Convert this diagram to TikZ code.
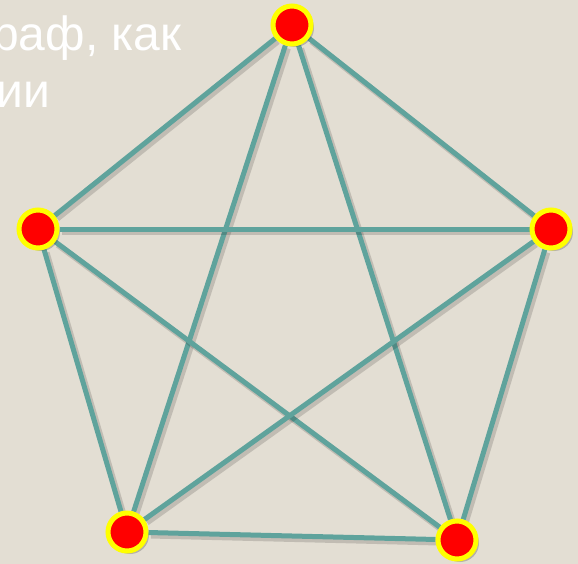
\documentclass[tikz,border=0pt]{standalone}
\usepackage{fontspec}
\setsansfont{Liberation Sans}
\usepackage{tikz}
\usetikzlibrary{shadows,backgrounds}
\definecolor{paper}   {HTML}{E3DED3}
\definecolor{edgeteal}{HTML}{5FA39C}
\definecolor{vred}    {HTML}{FF0000}
\definecolor{vyellow} {HTML}{FFFF00}
\pgfdeclarelayer{edges}
\pgfsetlayers{background,edges,main}

\begin{document}
\begin{tikzpicture}[x=1pt,y=-1pt,
        vtx/.style={circle,fill=vred,draw=vyellow,line width=5pt,
                    minimum size=38pt,inner sep=0pt,
                    drop shadow={shadow xshift=3pt,shadow yshift=-3pt,
                                 opacity=0.3,fill=black!70}},
        edg/.style={edgeteal,line width=5pt,
                    preaction={draw=black,opacity=0.15,line width=6pt,
                               transform canvas={shift={(2.5pt,-3pt)}}}},
        txt/.style={text=white,font=\sffamily\fontsize{48}{57}\selectfont,
                    inner sep=0pt}]
        \useasboundingbox (0,0) rectangle (578,564);
        \begin{pgfonlayer}{background}
          \fill[paper] (0,0) rectangle (578,564);
        \end{pgfonlayer}
        \node[txt,anchor=base west] (line1) at (-8,51) {раф, как};
        \node[txt,anchor=base west] (line2) at (-4,108) {ии};
        \node[vtx] (vtop)   at (292,25)  {};
        \node[vtx] (vleft)  at (38,229)  {};
        \node[vtx] (vright) at (551,229) {};
        \node[vtx] (vbl)    at (127,532) {};
        \node[vtx] (vbr)    at (457,540) {};
        \begin{pgfonlayer}{edges}
          \foreach \a/\b in {vtop/vleft,vtop/vright,vtop/vbl,vtop/vbr,
                             vleft/vright,vleft/vbl,vleft/vbr,
                             vright/vbl,vright/vbr,vbl/vbr}
            \draw[edg] (\a) -- (\b);
        \end{pgfonlayer}
      \end{tikzpicture}
\end{document}
